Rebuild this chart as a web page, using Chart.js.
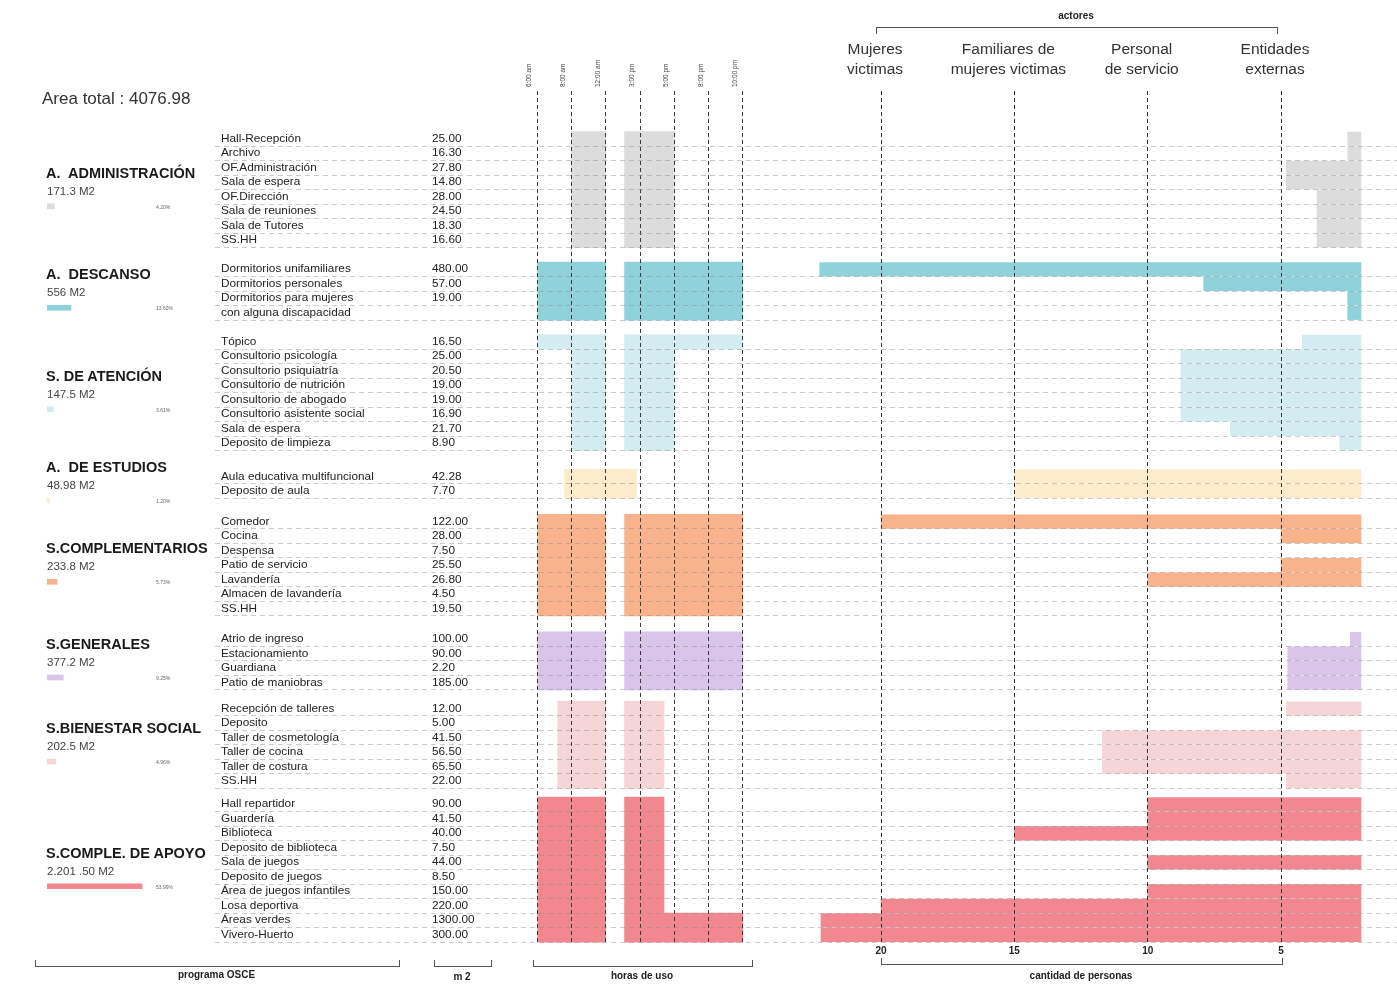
<!DOCTYPE html>
<html>
<head>
<meta charset="utf-8">
<title>Programa OSCE - horas de uso y actores</title>
<script src="https://cdn.jsdelivr.net/npm/chart.js@4.4.0/dist/chart.umd.min.js"></script>
<style>
  body { margin: 0; background: #fff; font-family: "Liberation Sans", Arial, sans-serif; color: #222; }
  #page { position: relative; width: 1397px; height: 990px; overflow: hidden; background: #fff; }
  canvas { position: absolute; top: 0; }
  .t { position: absolute; white-space: pre; transform: translateY(-50%); line-height: 1; }
  .room { font-size: 11.8px; color: #222; }
  .m2 { font-size: 11.8px; color: #222; }
  .gtitle { font-size: 14.5px; font-weight: bold; color: #1a1a1a; }
  .garea { font-size: 11.5px; color: #444; }
  .gpct { font-size: 5px; color: #666; }
  .brk { position: absolute; border: 1.3px solid #555; }
  .blab { position: absolute; font-size: 10px; font-weight: bold; color: #222; transform: translate(-50%, -50%); white-space: nowrap; }
</style>
</head>
<body>
<div id="page">
  <canvas id="miniChart" width="110" height="990" style="left:47px"></canvas>
  <canvas id="timeChart" width="240" height="990" style="left:520px"></canvas>
  <canvas id="peopleChart" width="637" height="990" style="left:760px"></canvas>
  <canvas id="rowLines" width="1182" height="990" style="left:215px"></canvas>
  <div id="labels"></div>
</div>
<script>
// ---- data ----
const groups = ['A.  ADMINISTRACIÓN', 'A.  DESCANSO', 'S. DE ATENCIÓN', 'A.  DE ESTUDIOS',
  'S.COMPLEMENTARIOS', 'S.GENERALES', 'S.BIENESTAR SOCIAL', 'S.COMPLE. DE APOYO'];
const groupArea = ['171.3 M2', '556 M2', '147.5 M2', '48.98 M2', '233.8 M2', '377.2 M2', '202.5 M2', '2.201 .50 M2'];
const groupShare = [4.20, 13.60, 3.61, 1.20, 5.73, 9.25, 4.96, 53.99];
const groupSize = [8, 4, 8, 2, 7, 4, 6, 10];

const rooms = [
  'Hall-Recepción', 'Archivo', 'OF.Administración', 'Sala de espera', 'OF.Dirección', 'Sala de reuniones', 'Sala de Tutores', 'SS.HH',
  'Dormitorios unifamiliares', 'Dormitorios personales', 'Dormitorios para mujeres', 'con alguna discapacidad',
  'Tópico', 'Consultorio psicología', 'Consultorio psiquiatría', 'Consultorio de nutrición', 'Consultorio de abogado', 'Consultorio asistente social', 'Sala de espera', 'Deposito de limpieza',
  'Aula educativa multifuncional', 'Deposito de aula',
  'Comedor', 'Cocina', 'Despensa', 'Patio de servicio', 'Lavandería', 'Almacen de lavandería', 'SS.HH',
  'Atrio de ingreso', 'Estacionamiento', 'Guardiana', 'Patio de maniobras',
  'Recepción de talleres', 'Deposito', 'Taller de cosmetología', 'Taller de cocina', 'Taller de costura', 'SS.HH',
  'Hall repartidor', 'Guardería', 'Biblioteca', 'Deposito de biblioteca', 'Sala de juegos', 'Deposito de juegos', 'Área de juegos infantiles', 'Losa deportiva', 'Áreas verdes', 'Vivero-Huerto'
];
const roomM2 = [
  25.00, 16.30, 27.80, 14.80, 28.00, 24.50, 18.30, 16.60,
  480.00, 57.00, 19.00, null,
  16.50, 25.00, 20.50, 19.00, 19.00, 16.90, 21.70, 8.90,
  42.28, 7.70,
  122.00, 28.00, 7.50, 25.50, 26.80, 4.50, 19.50,
  100.00, 90.00, 2.20, 185.00,
  12.00, 5.00, 41.50, 56.50, 65.50, 22.00,
  90.00, 41.50, 40.00, 7.50, 44.00, 8.50, 150.00, 220.00, 1300.00, 300.00
];

// hours of use, in steps of the time columns (0 = first column)
const timeLabels = ['6:00 am', '8:00 am', '12:00 am', '3:00 pm', '5:00 pm', '8:00 pm', '10:00 pm'];
const useAm = [
  [1, 2], [1, 2], [1, 2], [1, 2], [1, 2], [1, 2], [1, 2], [1, 2],
  [0, 2], [0, 2], [0, 2], [0, 2],
  [0, 2], [1, 2], [1, 2], [1, 2], [1, 2], [1, 2], [1, 2], [1, 2],
  [0.8, 2.9], [0.8, 2.9],
  [0, 2], [0, 2], [0, 2], [0, 2], [0, 2], [0, 2], [0, 2],
  [0, 2], [0, 2], [0, 2], [0, 2],
  [0.6, 2], [0.6, 2], [0.6, 2], [0.6, 2], [0.6, 2], [0.6, 2],
  [0, 2], [0, 2], [0, 2], [0, 2], [0, 2], [0, 2], [0, 2], [0, 2], [0, 2], [0, 2]
];
const usePm = [
  [2.55, 4], [2.55, 4], [2.55, 4], [2.55, 4], [2.55, 4], [2.55, 4], [2.55, 4], [2.55, 4],
  [2.55, 6], [2.55, 6], [2.55, 6], [2.55, 6],
  [2.55, 6], [2.55, 4], [2.55, 4], [2.55, 4], [2.55, 4], [2.55, 4], [2.55, 4], [2.55, 4],
  null, null,
  [2.55, 6], [2.55, 6], [2.55, 6], [2.55, 6], [2.55, 6], [2.55, 6], [2.55, 6],
  [2.55, 6], [2.55, 6], [2.55, 6], [2.55, 6],
  [2.55, 3.7], [2.55, 3.7], [2.55, 3.7], [2.55, 3.7], [2.55, 3.7], [2.55, 3.7],
  [2.55, 3.7], [2.55, 3.7], [2.55, 3.7], [2.55, 3.7], [2.55, 3.7], [2.55, 3.7], [2.55, 3.7], [2.55, 3.7], [2.55, 6], [2.55, 6]
];

// number of people per room (bars start at PEOPLE_BASE)
const PEOPLE_BASE = 2;
const people = [
  2.5, 2.5, 4.8, 4.8, 3.65, 3.65, 3.65, 3.65,
  22.3, 7.9, 2.5, 2.5,
  4.2, 8.75, 8.75, 8.75, 8.75, 8.75, 6.9, 2.8,
  15, 15,
  20, 5, null, 5, 10, null, null,
  2.4, 4.75, 4.75, 4.75,
  4.8, null, 11.7, 11.7, 11.7, 4.8,
  10, 10, 15, null, 10, null, 10, 20, 22.25, 22.25
];
const peopleTicks = [20, 15, 10, 5];
const actors = [['Mujeres', 'victimas'], ['Familiares de', 'mujeres victimas'], ['Personal', 'de servicio'], ['Entidades', 'externas']];

// ---- layout / style ----
const palette = ['#dcdcdc', '#8fd2db', '#d3ecef', '#fdeccb', '#f8b28c', '#dac5ea', '#f5d5d6', '#f1878f'];
const groupGap = [2.0, 2.0, 2.3, 2.1, 2.1, 1.8, 1.6]; // gap between sections, in row steps
const Y_MIN = -3.3, Y_MAX = 55.6;
const PAD_TOP = 91, PAD_BOTTOM = 45;

// row positions on the shared y scale
const rowPos = [], rowGroup = [], groupCenter = [];
let pos = 0;
groupSize.forEach((n, g) => {
  const first = pos;
  for (let k = 0; k < n; k++) {
    rowPos.push(pos);
    rowGroup.push(g);
    if (k < n - 1) pos += 1;
  }
  groupCenter.push((first + pos) / 2);
  if (g < groupGap.length) pos += groupGap[g];
});
const rowColors = rowGroup.map(g => palette[g]);

const yScale = () => ({ type: 'linear', reverse: true, min: Y_MIN, max: Y_MAX, offset: false, display: false, grid: { offset: false } });
const noPlugins = { legend: { display: false }, tooltip: { enabled: false } };

// Horizontal dashed row lines across the whole table
const linesChart = new Chart(document.getElementById('rowLines'), {
    type: 'scatter',
    data: { datasets: [] },
    options: {
        responsive: false,
        animation: false,
        layout: { padding: { top: PAD_TOP, bottom: PAD_BOTTOM, left: 0, right: 0 } },
        plugins: noPlugins,
        scales: {
            x: { display: false, min: 0, max: 1 },
            y: {
                type: 'linear', reverse: true, min: Y_MIN, max: Y_MAX, offset: false,
                afterBuildTicks: s => { s.ticks = rowPos.map(p => ({ value: p + 0.5 })); },
                afterFit: s => { s.width = 0; },
                ticks: { display: false },
                grid: { color: 'rgba(140,140,140,0.45)', lineWidth: 1, drawTicks: false },
                border: { display: false, dash: [5, 4] }
            }
        }
    }
});

// Hours of use
new Chart(document.getElementById('timeChart'), {
    type: 'bar',
    data: {
        datasets: [
            { label: 'mañana', data: rowPos.map((p, i) => ({ x: useAm[i], y: p })), backgroundColor: rowColors },
            { label: 'tarde', data: rowPos.map((p, i) => ({ x: usePm[i], y: p })), backgroundColor: rowColors }
        ]
    },
    options: {
        indexAxis: 'y',
        responsive: false,
        animation: false,
        layout: { padding: { top: PAD_TOP - 44, bottom: PAD_BOTTOM, left: 0, right: 0 } },
        datasets: { bar: { grouped: false, barThickness: 14.6, borderWidth: 0 } },
        plugins: noPlugins,
        scales: {
            x: {
                type: 'linear', position: 'top', min: -0.5, max: 6.5,
                afterBuildTicks: s => { s.ticks = timeLabels.map((l, i) => ({ value: i })); },
                afterFit: s => { s.height = 44; },
                ticks: {
                    autoSkip: false, minRotation: 90, maxRotation: 90, padding: 4,
                    font: { size: 6.5, family: 'Liberation Sans' }, color: '#444',
                    callback: v => timeLabels[v]
                },
                grid: { color: '#3a3a3a', lineWidth: 1, drawTicks: false, z: 1 },
                border: { display: false, dash: [4, 3] }
            },
            y: yScale()
        }
    }
});

// Number of people by actor
new Chart(document.getElementById('peopleChart'), {
    type: 'bar',
    data: {
        datasets: [{
            label: 'cantidad de personas',
            data: rowPos.map((p, i) => ({ x: people[i] == null ? null : [PEOPLE_BASE, people[i]], y: p })),
            backgroundColor: rowColors
        }]
    },
    options: {
        indexAxis: 'y',
        responsive: false,
        animation: false,
        layout: { padding: { top: PAD_TOP - 64, bottom: PAD_BOTTOM - 20, left: 0, right: 0 } },
        datasets: { bar: { barThickness: 13.5, borderWidth: 0 } },
        plugins: noPlugins,
        scales: {
            x: {
                type: 'linear', position: 'bottom', reverse: true, min: 0.65, max: 24.54,
                afterBuildTicks: s => { s.ticks = peopleTicks.map(v => ({ value: v })); },
                afterFit: s => { s.height = 20; },
                ticks: { autoSkip: false, maxRotation: 0, padding: 0, font: { size: 10, weight: 'bold', family: 'Liberation Sans' }, color: '#222' },
                grid: { color: '#333', lineWidth: 1, drawTicks: false, z: 1 },
                border: { display: false, dash: [4, 3] }
            },
            xTop: {
                type: 'linear', position: 'top', reverse: true, min: 0.65, max: 24.54,
                afterBuildTicks: s => { s.ticks = peopleTicks.map(v => ({ value: v })); },
                afterFit: s => { s.height = 64; },
                ticks: {
                    autoSkip: false, maxRotation: 0, padding: 3, labelOffset: -6,
                    font: { size: 15.5, family: 'Liberation Sans', lineHeight: 1.3 }, color: '#333',
                    callback: v => actors[peopleTicks.indexOf(v)]
                },
                grid: { display: false },
                border: { display: false }
            },
            y: yScale()
        }
    }
});

// Small share bars under each section title
new Chart(document.getElementById('miniChart'), {
    type: 'bar',
    data: {
        datasets: [{
            label: '% del area total',
            data: groupCenter.map((c, g) => ({ x: [0, groupShare[g]], y: c + 1.15 })),
            backgroundColor: palette
        }]
    },
    options: {
        indexAxis: 'y',
        responsive: false,
        animation: false,
        layout: { padding: { top: PAD_TOP, bottom: PAD_BOTTOM, left: 0, right: 0 } },
        datasets: { bar: { barThickness: 5, borderWidth: 0 } },
        plugins: noPlugins,
        scales: {
            x: { type: 'linear', min: 0, max: 62.5, display: false },
            y: yScale()
        }
    }
});

// ---- text ----
const yPx = v => linesChart.scales.y.getPixelForValue(v);
const box = document.getElementById('labels');
function addText(cls, text, x, y, extra) {
    const d = document.createElement('div');
    d.className = 't ' + cls;
    d.textContent = text;
    d.style.left = x + 'px';
    d.style.top = y + 'px';
    if (extra) Object.assign(d.style, extra);
    box.appendChild(d);
    return d;
}

addText('', 'Area total : 4076.98', 42, 98, { fontSize: '17px', color: '#333' });

rooms.forEach((name, i) => {
    const y = yPx(rowPos[i]);
    addText('room', name, 221, y);
    if (roomM2[i] != null) addText('m2', roomM2[i].toFixed(2), 432, y);
});

groups.forEach((name, g) => {
    const c = yPx(groupCenter[g]);
    addText('gtitle', name, 46, c - 17);
    addText('garea', groupArea[g], 47, c + 2);
    addText('gpct', groupShare[g].toFixed(2) + '%', 156, c + 17);
});

// brackets
function bracket(x1, x2, y, up, label, ly) {
    const b = document.createElement('div');
    b.className = 'brk';
    b.style.left = x1 + 'px';
    b.style.width = (x2 - x1) + 'px';
    b.style.height = '6px';
    if (up) { b.style.top = (y - 6) + 'px'; b.style.borderTop = 'none'; }
    else { b.style.top = y + 'px'; b.style.borderBottom = 'none'; }
    box.appendChild(b);
    const l = document.createElement('div');
    l.className = 'blab';
    l.textContent = label;
    l.style.left = ((x1 + x2) / 2) + 'px';
    l.style.top = ly + 'px';
    box.appendChild(l);
}
bracket(876, 1276, 27, false, 'actores', 15);
bracket(35, 398, 966, true, 'programa OSCE', 974);
bracket(434, 490, 966, true, 'm 2', 976);
bracket(533, 751, 966, true, 'horas de uso', 975);
bracket(881, 1281, 964, true, 'cantidad de personas', 975);
</script>
</body>
</html>
